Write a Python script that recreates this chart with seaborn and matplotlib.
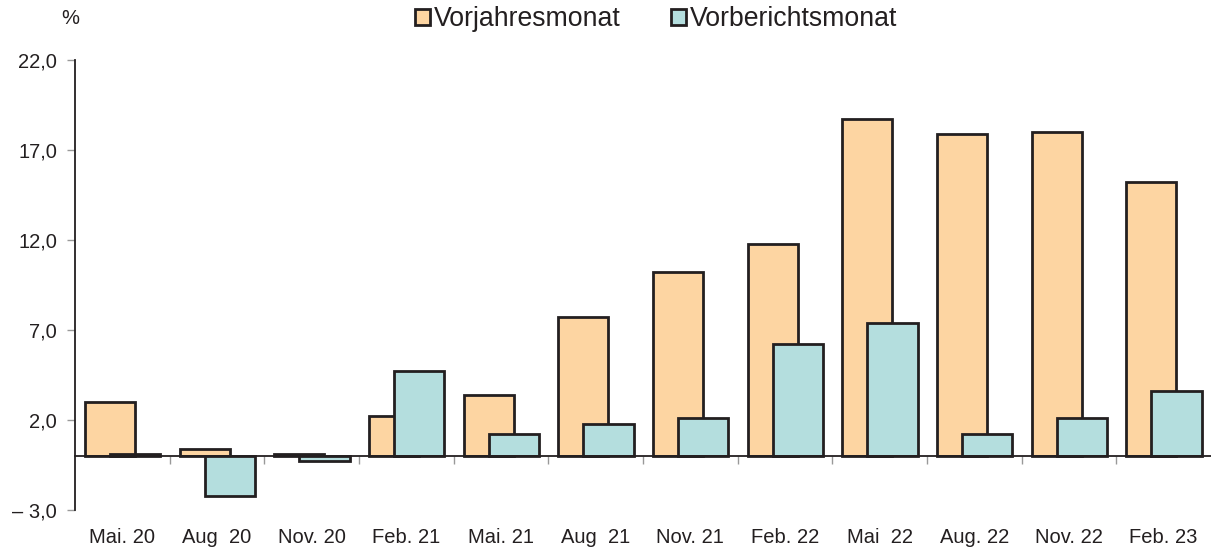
import numpy as np
import pandas as pd
import seaborn as sns
import matplotlib.pyplot as plt
from matplotlib.ticker import FixedLocator

months = ["Mai. 20", "Aug  20", "Nov. 20", "Feb. 21", "Mai. 21", "Aug  21",
          "Nov. 21", "Feb. 22", "Mai  22", "Aug. 22", "Nov. 22", "Feb. 23"]
vorjahr = [3.0, 0.4, 0.1, 2.2, 3.4, 7.7, 10.2, 11.8, 18.7, 17.9, 18.0, 15.2]
vorbericht = [0.1, -2.2, -0.3, 4.7, 1.2, 1.8, 2.1, 6.2, 7.4, 1.2, 2.1, 3.6]

orange = "#FDD5A2"
teal = "#B4DEDE"
edge = "#231F20"
txt = "#231F20"

sns.set_theme(style="white")
plt.rcParams['font.family'] = ['Liberation Sans', 'DejaVu Sans']

fig = plt.figure(figsize=(12.11, 5.47), dpi=100)
ax = fig.add_axes([75 / 1211, 1 - 510 / 547, 1 - 75 / 1211, (510 - 60) / 547])

df = pd.DataFrame({"monat": months, "vj": vorjahr, "vb": vorbericht})

sns.barplot(data=df, x="monat", y="vj", color=orange, width=0.53, saturation=1,
            edgecolor=edge, linewidth=2.0, label="Vorjahresmonat", ax=ax)
n = len(ax.patches)
for p in ax.patches:
    p.set_x(p.get_x() - 0.13)
sns.barplot(data=df, x="monat", y="vb", color=teal, width=0.53, saturation=1,
            edgecolor=edge, linewidth=2.0, label="Vorberichtsmonat", ax=ax)
for p in ax.patches[n:]:
    p.set_x(p.get_x() + 0.135)

ax.set_xlim(-0.5, len(months) - 0.5)
ax.set_ylim(-3, 22)
ax.set_yticks(np.arange(-3, 23, 5))
ax.set_yticklabels(["\u2013 3,0" if v < 0 else f"{v:.1f}".replace(".", ",")
                    for v in np.arange(-3, 23, 5)])
ax.set_xlabel("")
ax.set_ylabel("")

for s in ["top", "right"]:
    ax.spines[s].set_visible(False)
ax.spines["left"].set_color(edge)
ax.spines["left"].set_linewidth(1.3)
ax.spines["bottom"].set_position(("data", 0))
ax.spines["bottom"].set_color(edge)
ax.spines["bottom"].set_linewidth(1.3)

ax.tick_params(axis="y", which="major", direction="out", length=6, width=1,
               color="#999999", labelsize=14.5, labelcolor=txt, pad=7, left=True)
ax.tick_params(axis="x", which="major", length=0, pad=52, labelsize=14.5,
               labelcolor=txt)
ax.xaxis.set_minor_locator(FixedLocator(np.arange(0.5, len(months) - 1, 1.0)))
ax.tick_params(axis="x", which="minor", direction="out", length=6, width=1,
               color="#999999", bottom=True)

fig.text(70 / 1211, 1 - 18 / 547, "%", fontsize=14.5, color=txt,
         ha="center", va="center")

handles, labels = ax.get_legend_handles_labels()
if ax.get_legend() is not None:
    ax.get_legend().remove()
fig.legend(handles, labels, loc="center", bbox_to_anchor=(656 / 1211, 1 - 19 / 547),
           ncol=2, frameon=False, fontsize=19.2, handlelength=0.55, handleheight=0.55,
           handletextpad=0.15, columnspacing=1.9, labelcolor=txt)

fig.savefig("out.png", dpi=100)
